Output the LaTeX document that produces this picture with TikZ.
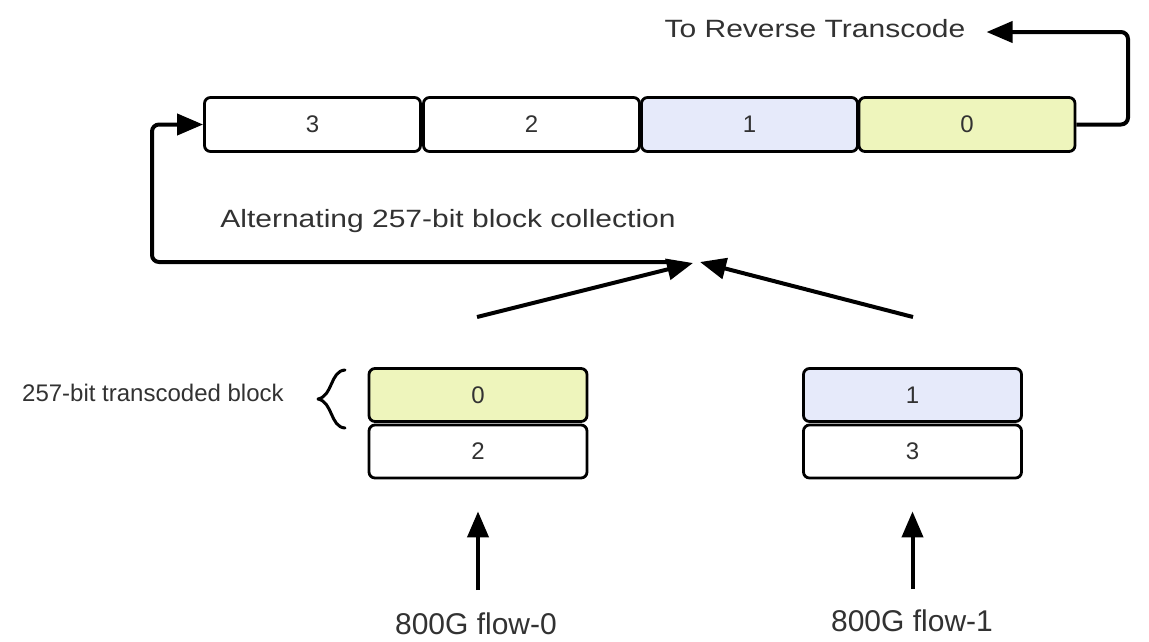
\documentclass[tikz,border=0pt]{standalone}
\usepackage{fontspec}
\setmainfont{Liberation Sans}
\usetikzlibrary{arrows.meta}
\definecolor{txt}{RGB}{50,50,50}
\definecolor{cellyellow}{RGB}{238,245,188}
\definecolor{cellblue}{RGB}{230,234,250}
\begin{document}
\begin{tikzpicture}[x=1pt,y=-1pt,
  cell/.style={draw=black, line width=2.8pt, rounded corners=6pt,
    minimum width=216pt, minimum height=54pt, inner sep=0pt,
    text=txt, font=\fontsize{24}{24}\selectfont},
  stackcell/.style={cell, minimum width=218pt, minimum height=53pt},
  label/.style={text=txt, inner sep=0pt},
  arr/.style={line width=4pt, -{Triangle[length=26pt,width=21pt]}},
  wire/.style={line width=4pt, rounded corners=7pt}]
\useasboundingbox (0,0) rectangle (1149,641);

% collection register
\node[cell] (b3) at (312.5,124.5) {3};
\node[cell] (b2) at (531.5,124.5) {2};
\node[cell, fill=cellblue] (b1) at (749.5,124.5) {1};
\node[cell, fill=cellyellow] (b0) at (967,124.5) {0};

% output label
\node[label, inner xsep=21pt, anchor=base, font=\fontsize{25}{25}\selectfont]
  (rt) at (815,37) {\scalebox{1.2}[1]{To Reverse Transcode}};
\draw[wire, arr] (b0.east) -- (1128,124.5) -- (1128,32) -- (rt.east |- 0,32);

% collection label
\node[label, anchor=base, font=\fontsize{25}{25}\selectfont]
  (coll) at (448,227) {\scalebox{1.2}[1]{Alternating 257-bit block collection}};

% flow stacks
\node[stackcell, fill=cellyellow] (f0a) at (478,395) {0};
\node[stackcell] (f0b) at (478,451.5) {2};
\node[stackcell, fill=cellblue] (f1a) at (912.5,395) {1};
\node[stackcell] (f1b) at (912.5,451.5) {3};

% block label and brace
\node[label, anchor=base west, font=\fontsize{24}{24}\selectfont]
  (blk) at (22,401.5) {257-bit transcoded block};
\draw[line width=3pt, line cap=round, line join=round]
  (345,370) .. controls (330,371) and (333,396) .. (318,399)
  .. controls (333,402) and (330,427) .. (345,428);

% flow inputs
\node[label, anchor=base, font=\fontsize{30}{30}\selectfont]
  (in0) at (476,634) {800G flow-0};
\node[label, anchor=base, font=\fontsize{30}{30}\selectfont]
  (in1) at (912,631) {800G flow-1};
\draw[arr, shorten <=22pt, shorten >=32pt] (in0.north -| f0b.south) -- (f0b.south);
\draw[arr, shorten <=20pt, shorten >=32pt] (in1.north -| f1b.south) -- (f1b.south);

% merge into the register
\coordinate (mL) at (693,263);
\coordinate (mR) at (700,262);
\coordinate (sL) at (477,317);
\coordinate (sR) at (913,317);
\draw[arr] (sL) -- (mL);
\draw[arr] (sR) -- (mR);
\draw[wire, arr] (675,262) -- (152,262) -- (152,124.5) -- (b3.west);
\end{tikzpicture}
\end{document}
